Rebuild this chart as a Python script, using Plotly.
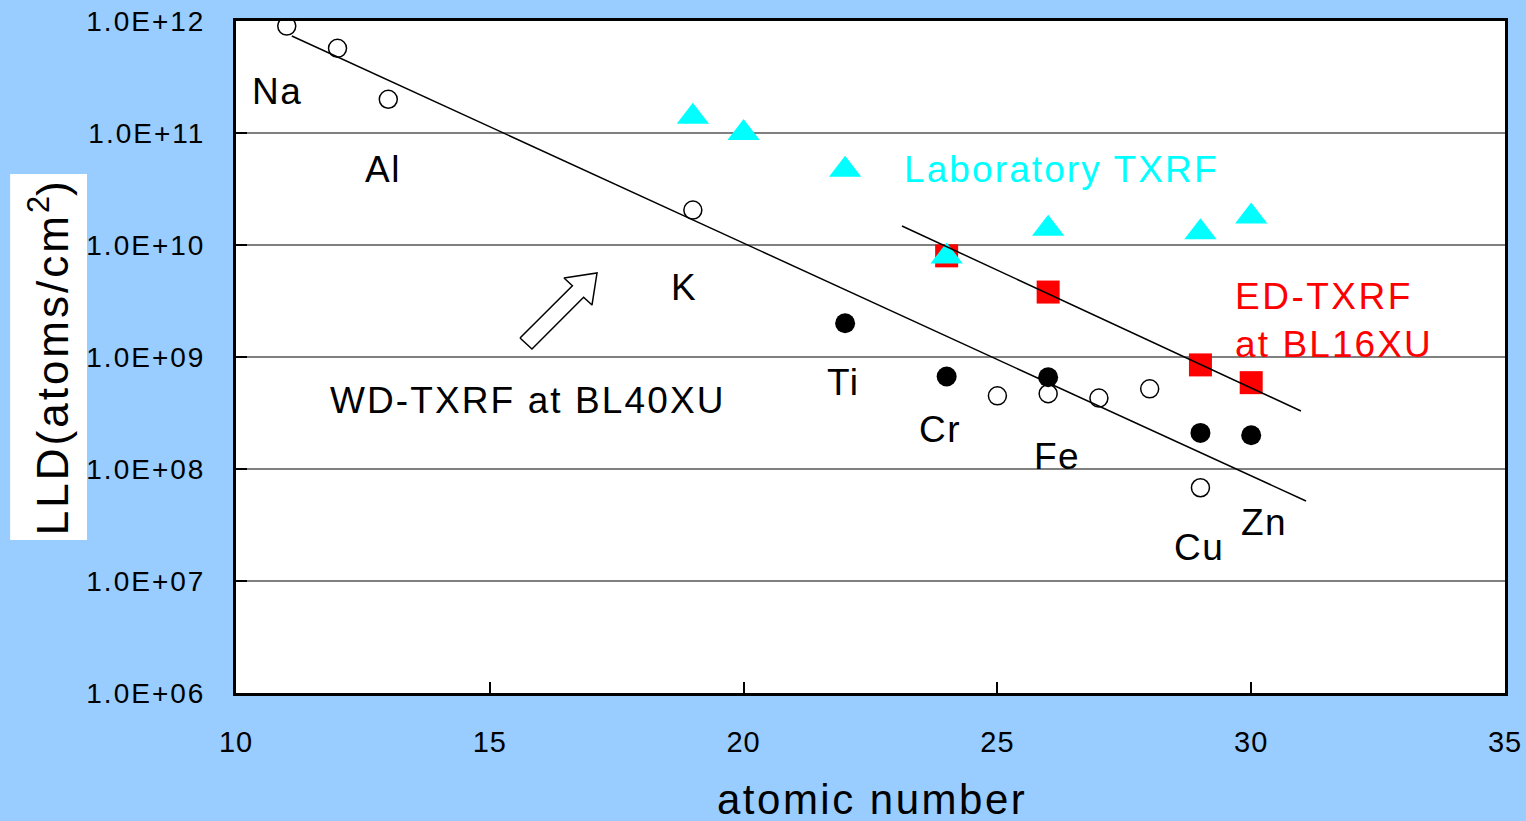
import plotly.graph_objects as go
import numpy as np

# ---- data ----
wd_open_z = [11, 12, 13, 19, 25, 26, 27, 28, 29]
wd_open_lld = [9.0e11, 5.7e11, 2.0e11, 2.05e10, 4.5e8, 4.7e8, 4.3e8, 5.2e8, 6.8e7]

wd_fill_z = [22, 24, 26, 29, 30]
wd_fill_lld = [2.0e9, 6.7e8, 6.6e8, 2.1e8, 2.0e8]

lab_z = [19, 20, 22, 24, 26, 29, 30]
lab_lld = [1.4e11, 1.0e11, 4.7e10, 7.9e9, 1.4e10, 1.3e10, 1.8e10]

ed_z = [24, 26, 29, 30]
ed_lld = [8.0e9, 3.8e9, 8.5e8, 5.9e8]

# fitted trend lines (end points)
wd_fit_z = [11.1, 31.08]
wd_fit_lld = [10**11.866, 10**7.714]
ed_fit_z = [23.12, 30.98]
ed_fit_lld = [10**10.17, 10**8.518]

y_tickvals = [1e6, 1e7, 1e8, 1e9, 1e10, 1e11, 1e12]
y_ticktext = ["1.0E+06", "1.0E+07", "1.0E+08", "1.0E+09", "1.0E+10", "1.0E+11", "1.0E+12"]
x_tickvals = [10, 15, 20, 25, 30, 35]

element_labels = ["Na", "Al", "K", "Ti", "Cr", "Fe", "Cu", "Zn"]
element_label_x = [10.81, 12.90, 18.83, 21.96, 23.87, 26.17, 28.97, 30.25]
element_label_logy = [11.375, 10.67, 9.625, 8.768, 8.357, 8.116, 7.295, 7.518]

# hollow arrow outline (atomic number, log10 LLD)
arrow_x = [15.595, 16.627, 16.462, 17.112, 17.013, 16.848, 15.831, 15.595]
arrow_logy = [9.170, 9.636, 9.705, 9.75, 9.464, 9.534, 9.071, 9.170]

FONT = "Liberation Sans, Arial, sans-serif"


def spaced(s, px):
    return f'<span style="letter-spacing:{px}px">{s}</span>'


fig = go.Figure()

fig.add_trace(go.Scatter(x=arrow_x, y=[10**v for v in arrow_logy], mode="lines",
                         fill="toself", fillcolor="white",
                         line=dict(color="black", width=1.5), hoverinfo="skip",
                         showlegend=False))

fig.add_trace(go.Scatter(x=ed_z, y=ed_lld, mode="markers",
                         marker=dict(symbol="square", size=23, color="#FF0000",
                                     line=dict(width=0)), showlegend=False))
fig.add_trace(go.Scatter(x=lab_z, y=lab_lld, mode="markers",
                         marker=dict(symbol="triangle-up", size=28, color="#00FFFF",
                                     line=dict(width=0)), showlegend=False))
fig.add_trace(go.Scatter(x=wd_open_z, y=wd_open_lld, mode="markers",
                         marker=dict(symbol="circle", size=18, color="white",
                                     line=dict(color="black", width=1.5)), showlegend=False))
fig.add_trace(go.Scatter(x=wd_fill_z, y=wd_fill_lld, mode="markers",
                         marker=dict(symbol="circle", size=20, color="black",
                                     line=dict(width=0)), showlegend=False))
fig.add_trace(go.Scatter(x=wd_fit_z, y=wd_fit_lld, mode="lines",
                         line=dict(color="black", width=1.5), showlegend=False))
fig.add_trace(go.Scatter(x=ed_fit_z, y=ed_fit_lld, mode="lines",
                         line=dict(color="black", width=1.5), showlegend=False))

annotations = []
for t, x, ly in zip(element_labels, element_label_x, element_label_logy):
    annotations.append(dict(x=x, y=ly, xref="x", yref="y", text=spaced(t, 1.5), showarrow=False,
                            font=dict(family=FONT, size=37, color="black"),
                            xanchor="center", yanchor="middle"))
annotations.append(dict(x=15.75, y=8.616, xref="x", yref="y",
                        text=spaced("WD-TXRF at BL40XU", 2.1),
                        showarrow=False, font=dict(family=FONT, size=37, color="black"),
                        xanchor="center", yanchor="middle"))
annotations.append(dict(x=26.27, y=10.67, xref="x", yref="y",
                        text=spaced("Laboratory TXRF", 2.1),
                        showarrow=False, font=dict(family=FONT, size=37, color="#00FFFF"),
                        xanchor="center", yanchor="middle"))
annotations.append(dict(x=29.64, y=9.33, xref="x", yref="y",
                        text=spaced("ED-TXRF", 2.5) + "<br>" + spaced("at BL16XU", 2.1),
                        showarrow=False, font=dict(family=FONT, size=37, color="#FF0000"),
                        xanchor="left", yanchor="middle", align="left"))
annotations.append(dict(x=0.501, y=-0.159, xref="paper", yref="paper",
                        text=spaced("atomic number", 2.5),
                        showarrow=False, font=dict(family=FONT, size=42, color="black"),
                        xanchor="center", yanchor="middle"))
annotations.append(dict(x=-0.148, y=0.5, xref="paper", yref="paper",
                        text=spaced("LLD(atoms/cm", 3) + "<sup>2</sup>" + spaced(")", 3),
                        textangle=-90,
                        showarrow=False, font=dict(family=FONT, size=44, color="black"),
                        xanchor="center", yanchor="middle"))

fig.update_layout(
    width=1526, height=821,
    margin=dict(l=236, r=21, t=21, b=128),
    paper_bgcolor="#99CCFF", plot_bgcolor="white",
    annotations=annotations,
    shapes=[dict(type="rect", xref="paper", yref="paper",
                 x0=-0.178, x1=-0.1174, y0=0.2277, y1=0.7723,
                 fillcolor="white", line=dict(width=0), layer="below")],
)
fig.update_xaxes(range=[10, 35], tickvals=x_tickvals,
                 ticktext=[spaced(str(v), 1) for v in x_tickvals],
                 ticks="inside", ticklen=11, automargin=False,
                 tickwidth=2, tickcolor="black", showline=True, linewidth=3,
                 linecolor="black", mirror=True, showgrid=False, zeroline=False,
                 ticklabelstandoff=21,
                 tickfont=dict(family=FONT, size=29, color="black"))
fig.update_yaxes(type="log", range=[6, 12], tickvals=y_tickvals,
                 ticktext=[spaced(t, 2) for t in y_ticktext], automargin=False,
                 ticks="inside", ticklen=11, tickwidth=2, tickcolor="black",
                 showline=True, linewidth=3, linecolor="black", mirror=True,
                 showgrid=True, gridcolor="#808080", gridwidth=1.5, zeroline=False,
                 ticklabelstandoff=22,
                 tickfont=dict(family=FONT, size=28, color="black"))

fig.write_html("out.html")
